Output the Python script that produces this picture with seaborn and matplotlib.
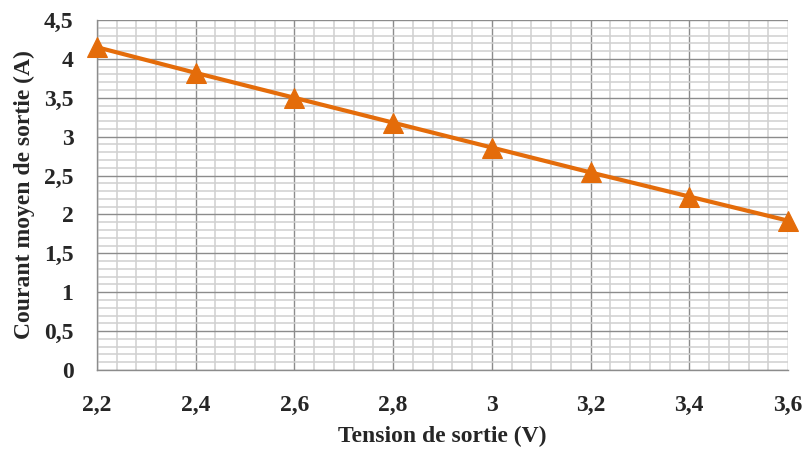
import matplotlib
matplotlib.use("Agg")
import matplotlib.pyplot as plt
from matplotlib.ticker import MultipleLocator, FuncFormatter
import seaborn as sns
import pandas as pd

# Output voltage (V) and mean output current (A)
tension = [2.2, 2.4, 2.6, 2.8, 3.0, 3.2, 3.4, 3.6]
courant = [4.15, 3.82, 3.50, 3.18, 2.86, 2.54, 2.23, 1.92]

x_label = "Tension de sortie (V)"
y_label = "Courant moyen de sortie (A)"

df = pd.DataFrame({"tension": tension, "courant": courant})

sns.set_theme(style="white")
plt.rcParams["font.family"] = ["Liberation Serif", "DejaVu Serif"]
plt.rcParams["font.weight"] = "bold"

fig = plt.figure(figsize=(8.05, 4.5), dpi=100)
ax = fig.add_axes([97 / 805, 1 - 370 / 450, (788 - 97) / 805, (370 - 20) / 450])

orange = "#E46C0A"
sns.lineplot(data=df, x="tension", y="courant", ax=ax, color=orange,
             linewidth=3.0, marker="^", markersize=14, markeredgecolor=orange,
             clip_on=False, zorder=5)

ax.set_xlim(2.2, 3.6)
ax.set_ylim(0, 4.5)

ax.xaxis.set_major_locator(MultipleLocator(0.2))
ax.xaxis.set_minor_locator(MultipleLocator(0.04))
ax.yaxis.set_major_locator(MultipleLocator(0.5))
ax.yaxis.set_minor_locator(MultipleLocator(0.1))

def comma_fmt(v, pos):
    s = f"{v:.1f}".rstrip("0").rstrip(".")
    return s.replace(".", ",")

ax.xaxis.set_major_formatter(FuncFormatter(comma_fmt))
ax.yaxis.set_major_formatter(FuncFormatter(comma_fmt))

ax.grid(which="minor", color="#d0d0d0", linewidth=1.1, zorder=0)
ax.grid(which="major", color="#8c8c8c", linewidth=1.0, zorder=1)
ax.set_axisbelow(True)

for side in ["top", "right"]:
    ax.spines[side].set_visible(False)
for side in ["left", "bottom"]:
    ax.spines[side].set_color("#8c8c8c")
    ax.spines[side].set_linewidth(1.0)

ax.tick_params(axis="both", which="major", direction="out", length=6,
               width=1.0, color="#8c8c8c", labelsize=17)
ax.tick_params(axis="x", which="major", pad=12)
ax.tick_params(axis="y", which="major", pad=11)
ax.tick_params(which="minor", length=0)
for lbl in ax.get_xticklabels() + ax.get_yticklabels():
    lbl.set_fontweight("bold")

ax.set_xlabel(x_label, fontsize=17, fontweight="bold", labelpad=7)
ax.set_ylabel(y_label, fontsize=17, fontweight="bold", labelpad=6)

fig.savefig("out.png", dpi=100)
